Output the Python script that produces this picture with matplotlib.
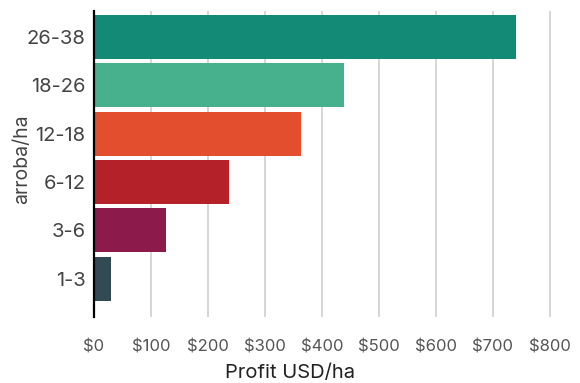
import matplotlib.pyplot as plt

plt.rcParams['font.family'] = ['Inter', 'DejaVu Sans']

# arroba/ha classes, bottom to top
classes = ['1-3', '3-6', '6-12', '12-18', '18-26', '26-38']
profit = [30, 127, 236, 364, 438, 740]
colors = ['#324a54', '#8c1b4c', '#b52129', '#e34e2f', '#47b18e', '#128a76']
xticks = [0, 100, 200, 300, 400, 500, 600, 700, 800]

W, H = 580, 383
fig = plt.figure(figsize=(W / 100, H / 100), dpi=100)
# axes box in pixels: left 94, right 565, top 11, bottom 317
ax = fig.add_axes([94 / W, 1 - 317 / H, (565 - 94) / W, (317 - 11) / H])

y = range(len(classes))
ax.barh(y, profit, height=0.91, color=colors, zorder=2)

ax.set_xlim(0, (565 - 94) / 0.57)
ax.set_ylim(-0.79, len(classes) - 1 + 0.54)

ax.set_xticks(xticks)
ax.set_xticklabels([f'${v}' for v in xticks], fontsize=12, color='#555555')
ax.set_yticks(list(y))
ax.set_yticklabels(classes, fontsize=14.5, color='#444444')
ax.tick_params(axis='both', length=0)
ax.tick_params(axis='x', pad=16)
ax.tick_params(axis='y', pad=6)

ax.grid(axis='x', color='#cfcfcf', linewidth=1.2, zorder=0)
ax.set_axisbelow(True)

for s in ['top', 'right', 'bottom']:
    ax.spines[s].set_visible(False)
ax.spines['left'].set_linewidth(1.6)
ax.spines['left'].set_color('black')
ax.spines['left'].set_zorder(3)

fig.text(0.5, 1 - 373 / H, 'Profit USD/ha', ha='center', va='center',
         fontsize=14.5, color='#222222')
fig.text(22 / W, 1 - 159 / H, 'arroba/ha', ha='center', va='center',
         rotation=90, fontsize=14, color='#444444')

fig.savefig('out.png', dpi=100)
